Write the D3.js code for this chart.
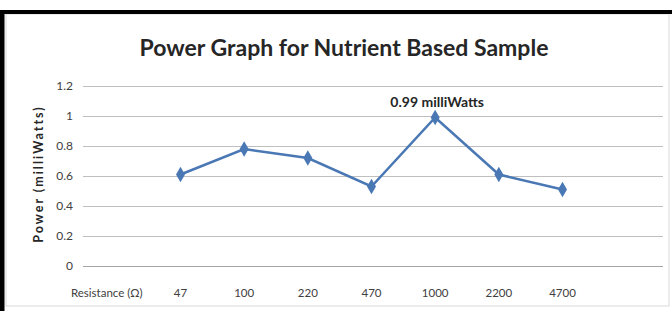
<!DOCTYPE html>
<html>
<head>
<meta charset="utf-8">
<script src="https://cdn.jsdelivr.net/npm/d3@7"></script>
<style>
  body { margin: 0; background: #fff; }
  svg { display: block; }
</style>
</head>
<body>
<svg width="672" height="311"></svg>
<script>
var categories = ["Resistance (\u03A9)", "47", "100", "220", "470", "1000", "2200", "4700", ""],
    power = [null, 0.61, 0.78, 0.72, 0.53, 0.99, 0.61, 0.51, null],
    yTicks = [0, 0.2, 0.4, 0.6, 0.8, 1, 1.2],
    peakLabel = "0.99 milliWatts";

var svg = d3.select("svg"),
    width = +svg.attr("width"),
    height = +svg.attr("height");

var font = "Lato, 'Open Sans', sans-serif";

// outer frame (only top and left visible in the crop)
svg.append("rect").attr("x", 6).attr("y", 14).attr("width", 663).attr("height", 292)
    .attr("fill", "none").attr("stroke", "#d9d9d9").attr("stroke-width", 1);
svg.append("line").attr("x1", 0).attr("x2", width).attr("y1", 12).attr("y2", 12)
    .attr("stroke", "#000").attr("stroke-width", 4);
svg.append("line").attr("x1", 2).attr("x2", 2).attr("y1", 10).attr("y2", height)
    .attr("stroke", "#000").attr("stroke-width", 5);

var plot = { left: 83, right: 663, top: 86, bottom: 266 };

var x = d3.scaleBand().domain(d3.range(categories.length))
    .range([85, 658]);
var y = d3.scaleLinear().domain([0, 1.2]).range([plot.bottom, plot.top]);

// gridlines
svg.append("g").selectAll("line").data(yTicks).enter().append("line")
    .attr("x1", plot.left).attr("x2", plot.right)
    .attr("y1", function(d) { return Math.round(y(d)) + 0.5; })
    .attr("y2", function(d) { return Math.round(y(d)) + 0.5; })
    .attr("stroke", function(d) { return d === 0 ? "#a6a6a6" : "#bfbfbf"; })
    .attr("stroke-width", 1.2);

// y tick labels
svg.append("g").selectAll("text").data(yTicks).enter().append("text")
    .attr("x", 73).attr("y", function(d) { return y(d) + 4; })
    .attr("text-anchor", "end")
    .attr("font-family", font).attr("font-size", 12).attr("fill", "#404040")
    .text(function(d) { return d; });

// x category labels
svg.append("g").selectAll("text").data(categories).enter().append("text")
    .attr("x", function(d, i) { return x(i) + x.bandwidth() / 2 - (i === 0 ? 10 : 0); })
    .attr("y", 297)
    .attr("text-anchor", "middle")
    .attr("font-family", font).attr("font-size", 11.5).attr("fill", "#404040")
    .text(function(d) { return d; });

// title
svg.append("text").attr("x", 344).attr("y", 56)
    .attr("text-anchor", "middle")
    .attr("font-family", font).attr("font-weight", "bold").attr("font-size", 23)
    .attr("fill", "#262626")
    .text("Power Graph for Nutrient Based Sample");

// y axis title
svg.append("text")
    .attr("transform", "translate(43," + ((plot.top + plot.bottom) / 2 - 2) + ") rotate(-90)")
    .attr("text-anchor", "middle")
    .attr("font-family", font).attr("font-weight", "bold").attr("font-size", 12.5)
    .attr("letter-spacing", 2)
    .attr("fill", "#262626")
    .text("Power (milliWatts)");

var pts = power.map(function(v, i) { return { i: i, v: v }; })
    .filter(function(d) { return d.v !== null; });

var line = d3.line()
    .x(function(d) { return x(d.i) + x.bandwidth() / 2; })
    .y(function(d) { return y(d.v); });

svg.append("path").datum(pts).attr("d", line)
    .attr("fill", "none").attr("stroke", "#4a78b4").attr("stroke-width", 2.5);

svg.append("g").selectAll("path").data(pts).enter().append("path")
    .attr("d", d3.symbol().type(d3.symbolDiamond).size(70))
    .attr("transform", function(d) { return "translate(" + (x(d.i) + x.bandwidth() / 2) + "," + y(d.v) + ")"; })
    .attr("fill", "#4a78b4");

// data label on the peak
var peak = pts.reduce(function(a, b) { return b.v > a.v ? b : a; });
svg.append("text")
    .attr("x", x(peak.i) + x.bandwidth() / 2 + 2).attr("y", y(peak.v) - 11)
    .attr("text-anchor", "middle")
    .attr("font-family", font).attr("font-weight", "bold").attr("font-size", 14)
    .attr("fill", "#262626")
    .text(peakLabel);
</script>
</body>
</html>
